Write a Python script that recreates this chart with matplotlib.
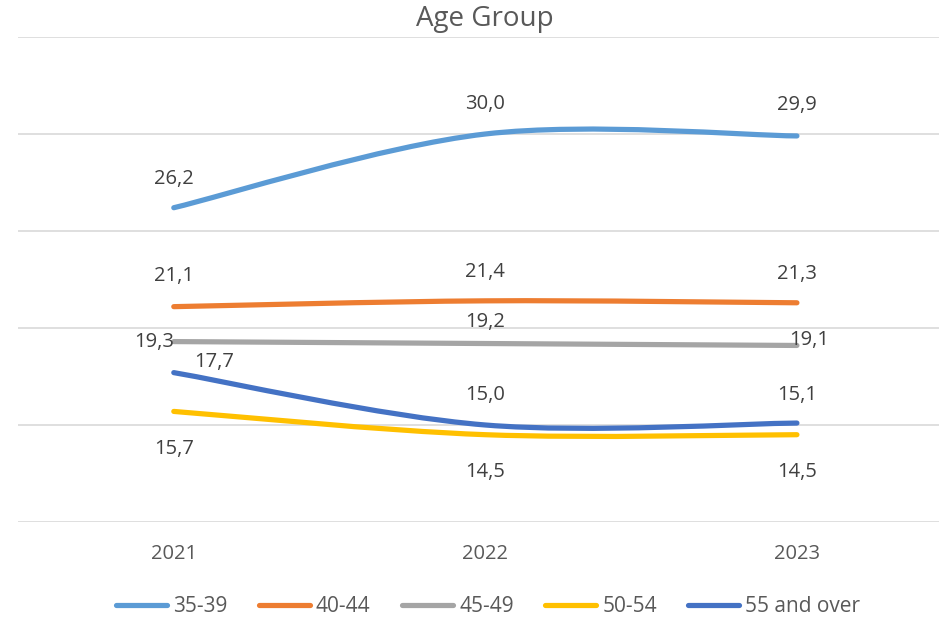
import matplotlib
matplotlib.use('Agg')
import matplotlib.pyplot as plt
import numpy as np
from matplotlib.path import Path
from matplotlib.patches import PathPatch
from matplotlib.lines import Line2D

# data
years = ["2021", "2022", "2023"]
age_groups = ["35-39", "40-44", "45-49", "50-54", "55 and over"]
v_35_39 = [26.2, 30.0, 29.9]
v_40_44 = [21.1, 21.4, 21.3]
v_45_49 = [19.3, 19.2, 19.1]
v_50_54 = [15.7, 14.5, 14.5]
v_55_over = [17.7, 15.0, 15.1]
series = [v_35_39, v_40_44, v_45_49, v_50_54, v_55_over]

colors = ["#5B9BD5", "#ED7D31", "#A5A5A5", "#FFC000", "#4472C4"]

# label offsets in pixels (dx, dy up) per series / point, as Excel placed them
label_offsets = [
    [(0, 29), (0, 30), (0, 31)],
    [(0, 31), (0, 29), (0, 29)],
    [(-20, 0), (0, 22), (12, 5)],
    [(0, -38), (0, -37), (0, -37)],
    [(40, 11), (0, 30), (0, 28)],
]

plt.rcParams['font.family'] = ['Open Sans', 'DejaVu Sans']


def smooth_path(xs, ys):
    # excel-like smoothed line: cubic bezier with catmull-rom tangents
    pts = np.column_stack([xs, ys]).astype(float)
    n = len(pts)
    verts = [pts[0]]
    codes = [Path.MOVETO]
    for i in range(n - 1):
        p0 = pts[max(i - 1, 0)]
        p1 = pts[i]
        p2 = pts[i + 1]
        p3 = pts[min(i + 2, n - 1)]
        c1 = p1 + (p2 - p0) / 6.0
        c2 = p2 - (p3 - p1) / 6.0
        verts += [c1, c2, p2]
        codes += [Path.CURVE4] * 3
    return Path(verts, codes)


fig = plt.figure(figsize=(9.39, 6.18), dpi=100)
ax = fig.add_axes([18 / 939, 1 - 522 / 618, 1 - 18 / 939, (522 - 37) / 618])

x = np.arange(len(years))
handles = []
for vals, col, name, offs in zip(series, colors, age_groups, label_offsets):
    patch = PathPatch(smooth_path(x, vals), fill=False, edgecolor=col,
                      lw=3.75, capstyle='round', joinstyle='round', zorder=3)
    ax.add_patch(patch)
    for xi, v, (dx, dy) in zip(x, vals, offs):
        ax.annotate(f"{v:.1f}".replace(".", ","), (xi, v), xytext=(dx, dy),
                    textcoords='offset pixels', ha='center', va='center',
                    fontsize=14.5, color="#404040")
    handles.append(Line2D([], [], color=col, lw=3.75, solid_capstyle='round'))

ax.set_xlim(-0.5, 2.456)
ax.set_ylim(10, 35)
ax.set_yticks([10, 15, 20, 25, 30, 35])
ax.yaxis.grid(True, color="#D9D9D9", lw=1.2)
ax.set_axisbelow(True)
ax.tick_params(axis='y', left=False, labelleft=False)
ax.set_xticks(x)
ax.set_xticklabels(years, fontsize=14.5, color="#595959")
ax.tick_params(axis='x', length=0, pad=16)
for s in ax.spines.values():
    s.set_visible(False)

fig.text(485 / 939, 1 - 19 / 618, "Age Group", ha='center', va='center',
         fontsize=20, color="#595959")

fig.legend(handles, age_groups, loc='center', ncol=5,
           bbox_to_anchor=(488 / 939, 1 - 607 / 618), frameon=False,
           fontsize=15, labelcolor="#595959", handlelength=2.45,
           handletextpad=0.3, columnspacing=1.5)

fig.savefig("out.png", dpi=100)
